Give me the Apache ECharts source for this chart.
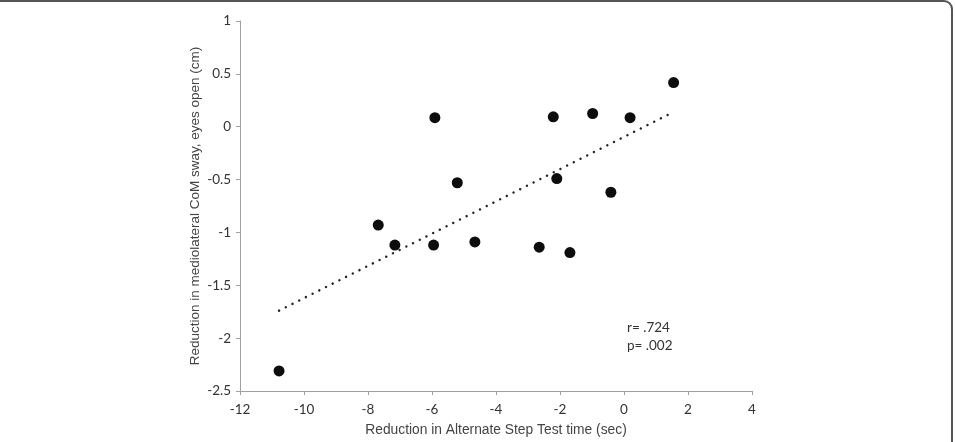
<!DOCTYPE html>
<html>
<head>
<meta charset="utf-8">
<script src="https://cdn.jsdelivr.net/npm/echarts@6/dist/echarts.min.js"></script>
<style>
  html, body { margin: 0; padding: 0; background: #fff; }
  #main { width: 955px; height: 442px; }
</style>
</head>
<body>
<div id="main"></div>
<script>
// step test change (sec) vs. mediolateral sway change (cm)
var stepTime = [-10.78, -7.68, -7.16, -5.91, -5.95, -5.21, -4.66, -2.65, -2.21, -2.10, -1.69, -0.98, -0.41, 0.19, 1.55];
var swayChange = [-2.31, -0.93, -1.12, 0.085, -1.12, -0.53, -1.09, -1.14, 0.094, -0.49, -1.19, 0.125, -0.62, 0.085, 0.418];
// trend line ends
var trendX = [-10.78, 1.55];
var trendY = [-1.74, 0.14];
var xTicks = { min: -12, max: 4, step: 2 };
var yTicks = { min: -2.5, max: 1, step: 0.5 };

var points = stepTime.map(function (x, i) { return [x, swayChange[i]]; });
var trend = trendX.map(function (x, i) { return [x, trendY[i]]; });

var chart = echarts.init(document.getElementById('main'));
chart.setOption({
  animation: false,
  backgroundColor: '#fff',
  grid: { left: 240, right: 203, top: 21, bottom: 47 },
  graphic: [
    {
      type: 'rect',
      shape: { x: -20, y: 1, width: 972, height: 470, r: 8 },
      style: { fill: 'none', stroke: '#555', lineWidth: 2 }
    },
    {
      type: 'text',
      left: 627, top: 319,
      style: { text: 'r= .724\np= .002', font: '13.5px Lato', fill: '#333', lineHeight: 18 }
    }
  ],
  xAxis: {
    type: 'value',
    min: xTicks.min, max: xTicks.max, interval: xTicks.step,
    name: 'Reduction in Alternate Step Test time (sec)',
    nameLocation: 'middle', nameGap: 32,
    nameTextStyle: { fontFamily: 'Liberation Sans', fontSize: 13.8, color: '#444' },
    axisLine: { onZero: false, lineStyle: { color: '#a0a0a0', width: 1 } },
    axisTick: { show: true, length: 4, lineStyle: { color: '#a0a0a0' } },
    axisLabel: { fontFamily: 'Lato', fontSize: 13.5, color: '#333', margin: 12 },
    splitLine: { show: false }
  },
  yAxis: {
    type: 'value',
    min: yTicks.min, max: yTicks.max, interval: yTicks.step,
    name: 'Reduction in mediolateral CoM sway, eyes open (cm)',
    nameLocation: 'middle', nameGap: 38, nameMoveOverlap: false,
    nameTextStyle: { fontFamily: 'Liberation Sans', fontSize: 13.5, color: '#444' },
    axisLine: { show: true, onZero: false, lineStyle: { color: '#a0a0a0', width: 1 } },
    axisTick: { show: true, length: 4, lineStyle: { color: '#a0a0a0' } },
    axisLabel: { fontFamily: 'Lato', fontSize: 13.5, color: '#333', margin: 9 },
    splitLine: { show: false }
  },
  series: [
    {
      type: 'line',
      data: trend,
      symbol: 'none',
      lineStyle: { color: '#222', width: 2.4, type: [0.1, 7.4], cap: 'round' },
      z: 1
    },
    {
      type: 'scatter',
      data: points,
      symbol: 'circle',
      symbolSize: 11,
      itemStyle: { color: '#0d0d0d', opacity: 1 },
      z: 2
    }
  ]
});
</script>
</body>
</html>
